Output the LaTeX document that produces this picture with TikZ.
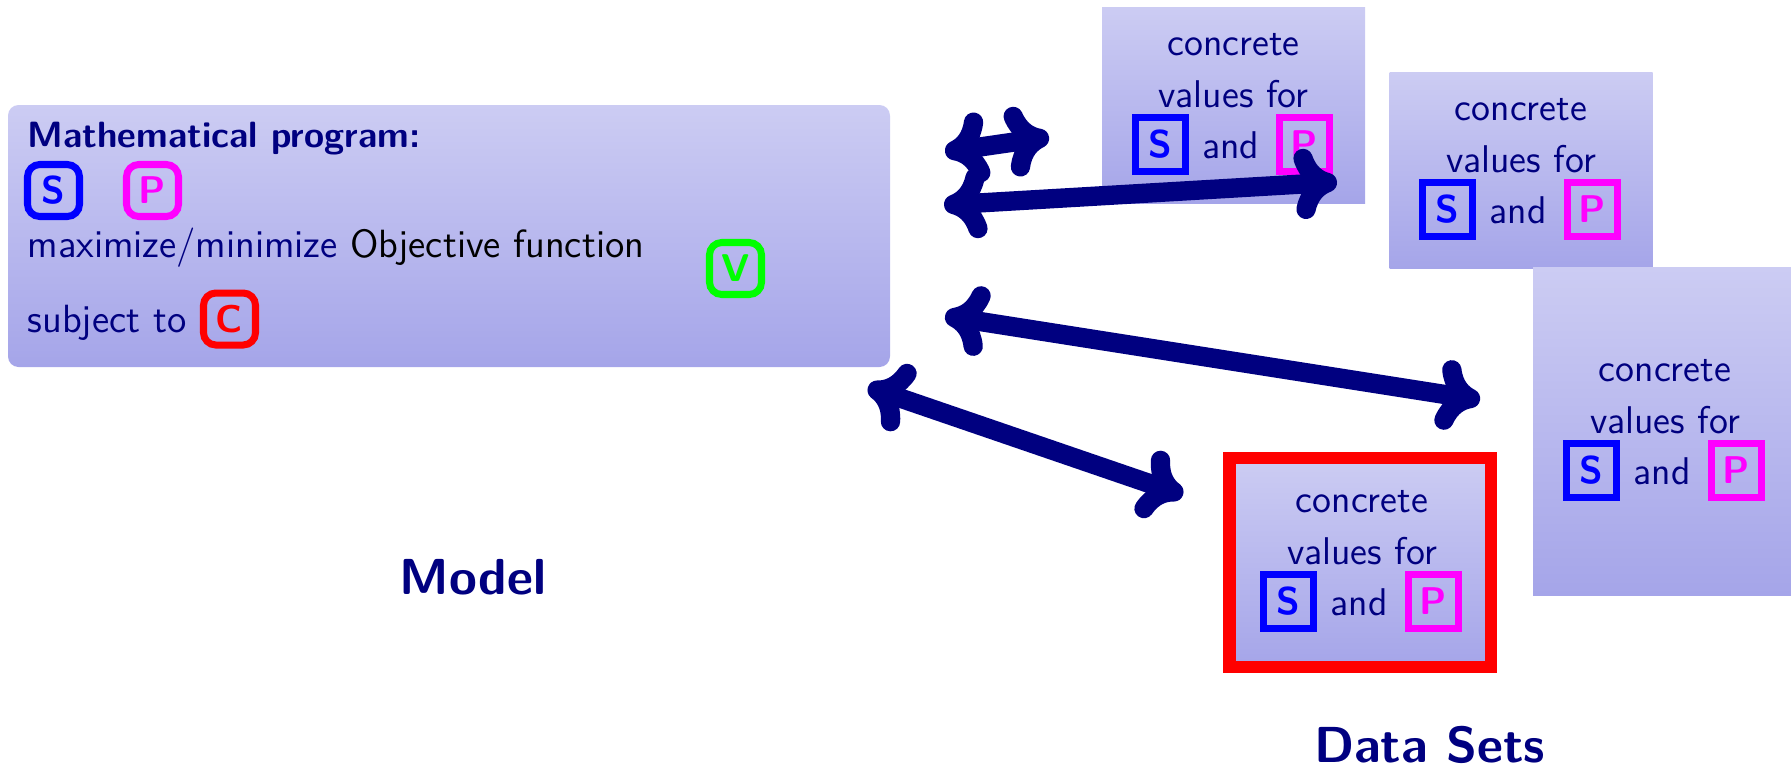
\documentclass[tikz,border=0pt]{standalone}
\usetikzlibrary{arrows.meta,calc}
\definecolor{navyc}{RGB}{0,0,128}
\definecolor{shtop}{RGB}{204,204,243}
\definecolor{shbot}{RGB}{165,165,233}
\definecolor{cblue}{RGB}{0,0,255}
\definecolor{cmag}{RGB}{255,0,255}
\definecolor{cgreen}{RGB}{0,255,0}
\definecolor{cred}{RGB}{255,0,0}
\tikzset{
  shadebox/.style={top color=shtop, bottom color=shbot, draw=none, inner sep=0pt, outer sep=0pt},
  modelbox/.style={shadebox, rounded corners=3pt},
  dsbox/.style={shadebox, minimum width=26.3mm, minimum height=19.6mm},
  txt/.style={text=navyc, font=\sffamily\fontsize{11}{13}\selectfont, inner sep=0pt, anchor=base},
  mtxt/.style={txt, font=\sffamily\fontsize{11.2}{13}\selectfont},
  btxt/.style={txt, font=\sffamily\bfseries\fontsize{10.4}{13}\selectfont},
  lbl/.style={txt, font=\sffamily\bfseries\fontsize{14.4}{17}\selectfont},
  rbox/.style={draw=#1, text=#1, line width=2pt, rounded corners=3.5pt, minimum width=5.2mm, minimum height=5.2mm, inner sep=0pt, font=\sffamily\bfseries\fontsize{11}{13}\selectfont},
  sbox/.style={draw=#1, text=#1, line width=2pt, minimum width=5.0mm, minimum height=5.4mm, inner sep=0pt, font=\sffamily\bfseries\fontsize{11}{13}\selectfont},
  conn/.style={draw=navyc, line width=5.5pt, line cap=round, <->, >={Computer Modern Rightarrow[length=12pt,width=20pt]}}
}
\newcommand\DSText[3]{%
  \begin{scope}[shift={(#2,#3)}]
    \node[txt] (#1-c) at (0,-49.5) {concrete};
    \node[txt] (#1-v) at (0,2) {values for};
    \node[txt] (#1-a) at (-3,53) {and};
    \node[sbox=cblue] (#1-s) at (-73.5,39.5) {S};
    \node[sbox=cmag] (#1-p) at (71,39.5) {P};
  \end{scope}}
\begin{document}
\begin{tikzpicture}[x=0.1mm, y=-0.1mm]
\useasboundingbox (0,0) rectangle (1791,769);
% data sets
\node[dsbox] (ds1) at (1233.5,105) {};
\DSText{ds1}{1233.5}{105}
\node[dsbox] (ds2) at (1521,170) {};
\DSText{ds2}{1521}{170}
\node[dsbox, minimum width=26.4mm, minimum height=32.8mm] (ds3) at (1665,431) {};
\DSText{ds3}{1665}{431}
\node[dsbox, draw=cred, line width=1.25mm, minimum width=26.15mm, minimum height=20.9mm] (ds4) at (1360,562.5) {};
\DSText{ds4}{1362}{562}
% model
\node[modelbox, minimum width=88.2mm, minimum height=26.2mm, anchor=north west] (model) at (8,105) {};
\node[btxt, anchor=base west] (mp) at (27,147) {Mathematical program:};
\node[rbox=cblue] (ms) at (53.5,190.5) {S};
\node[rbox=cmag] (mpp) at (152.5,190.5) {P};
\node[mtxt, anchor=base west] (obj) at (27,257) {maximize/minimize \textcolor{black}{Objective function}};
\node[rbox=cgreen] (mv) at (735.5,268.5) {V};
\node[mtxt, anchor=base west] (st) at (27,332) {subject to};
\node[rbox=cred] (mc) at (229.5,319) {C};
% labels
\node[lbl] (lmodel) at (473,594) {Model};
\node[lbl] (ldata) at (1429.5,762) {Data Sets};
% arrows
\coordinate (a1s) at (945,152);
\coordinate (a1e) at (1049,137);
\coordinate (a2s) at (944,205);
\coordinate (a2e) at (1337,182);
\coordinate (a3s) at (945,316);
\coordinate (a3e) at (1480,400);
\coordinate (a4s) at (868,387);
\coordinate (a4e) at (1183,495);
\draw[conn] (a1s) -- (a1e);
\draw[conn] (a2s) -- (a2e);
\draw[conn] (a3s) -- (a3e);
\draw[conn] (a4s) -- (a4e);
\end{tikzpicture}
\end{document}
